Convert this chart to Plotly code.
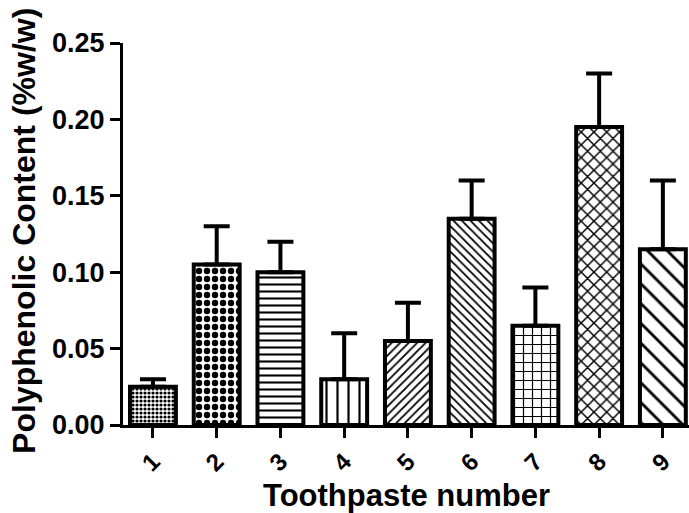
import plotly.graph_objects as go

categories = [1, 2, 3, 4, 5, 6, 7, 8, 9]
tick_labels = ["1", "2", "3", "4", "5", "6", "7", "8", "9"]
values = [0.025, 0.105, 0.100, 0.030, 0.055, 0.135, 0.065, 0.195, 0.115]
upper = [0.030, 0.130, 0.120, 0.060, 0.080, 0.160, 0.090, 0.230, 0.160]
err_plus = [u - v for u, v in zip(upper, values)]
err_minus = [0] * len(values)

shapes = [".", ".", "-", "|", "/", "\\", "+", "x", "\\"]
psize = [4, 8, 7, 11, 6, 6, 9, 9, 14]
psolid = [0.5, 0.5, 0.3, 0.2, 0.3, 0.3, 0.25, 0.3, 0.2]

FONT = "Liberation Sans"

fig = go.Figure(go.Bar(
    x=categories, y=values, width=0.72,
    marker=dict(color="white", line=dict(color="black", width=4),
                pattern=dict(shape=shapes, size=psize, solidity=psolid,
                             fgcolor="black", bgcolor="white", fillmode="replace")),
    error_y=dict(type="data", symmetric=False, array=err_plus, arrayminus=err_minus,
                 thickness=4, width=13, color="black"),
    showlegend=False,
))

fig.update_layout(
    width=689, height=513,
    margin=dict(l=123, r=0, t=43, b=88),
    plot_bgcolor="white", paper_bgcolor="white",
    font=dict(family=FONT, color="black", size=24, weight="bold"),
    xaxis=dict(range=[0.53, 9.41], tickvals=categories, ticktext=tick_labels,
               tickangle=-45, showline=True, linecolor="black", linewidth=3,
               ticks="outside", ticklen=10, tickwidth=3, tickcolor="black",
               showgrid=False, zeroline=False,
               tickfont=dict(family=FONT, size=24, weight="bold")),
    yaxis=dict(range=[0, 0.25], tickvals=[0, 0.05, 0.10, 0.15, 0.20, 0.25],
               ticktext=["0.00", "0.05", "0.10", "0.15", "0.20", "0.25"],
               showline=True, linecolor="black", linewidth=3,
               ticks="outside", ticklen=10, tickwidth=3, tickcolor="black",
               showgrid=False, zeroline=False,
               tickfont=dict(family=FONT, size=27, weight="bold")),
    annotations=[
        dict(text="Toothpaste number", xref="paper", yref="paper",
             x=0.5, y=-0.185, xanchor="center", yanchor="middle", showarrow=False,
             font=dict(family=FONT, size=31, weight="bold")),
        dict(text="Polyphenolic Content (%w/w)", xref="paper", yref="paper",
             x=-0.175, y=0.508, xanchor="center", yanchor="middle", showarrow=False,
             textangle=-90, font=dict(family=FONT, size=32, weight="bold")),
    ],
)

fig.write_html("out.html",
               config={"displayModeBar": False},
               post_script="document.body.style.margin='0';document.documentElement.style.overflow='hidden';")
